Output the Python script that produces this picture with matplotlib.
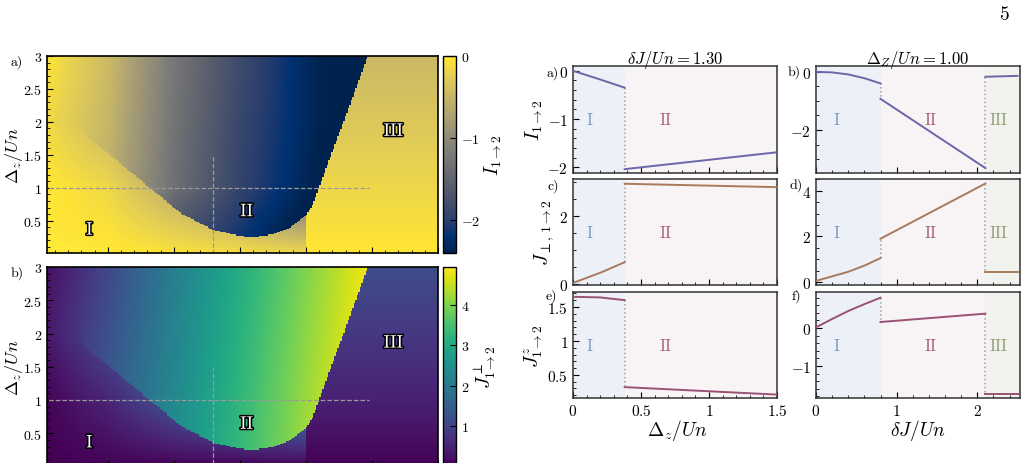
import numpy as np
import matplotlib
matplotlib.use("Agg")
import matplotlib.pyplot as plt
from matplotlib import ticker
import matplotlib.patheffects as pe

plt.rcParams.update({
    "font.family": "serif",
    "font.serif": ["cmr10", "DejaVu Serif"],
    "mathtext.fontset": "cm",
    "axes.formatter.use_mathtext": True,
    "axes.unicode_minus": False,
})

# ---- phase map data ----
# lower edge of phase II (the "bowl"), delta J -> Delta z
bowl_dj = [0.0, 0.2, 0.36, 0.52, 0.64, 0.82, 1.05, 1.3, 1.45, 1.58, 1.75, 1.88, 2.0, 2.05, 2.1, 3.0]
bowl_dz = [2.9, 2.2, 1.74, 1.5, 1.29, 1.0, 0.62, 0.36, 0.29, 0.25, 0.29, 0.39, 0.58, 0.74, 1.0, 5.0]
# left edge of phase III, Delta z -> delta J
iii_dz = [0.0, 0.58, 0.74, 3.0]
iii_dj = [2.0, 2.0, 2.05, 2.47]

# coarse value tables: rows Delta z = 0,1,2,3 ; cols delta J = 0..3 step .5
node_dj = [0.0, 0.5, 1.0, 1.5, 2.0, 2.5, 3.0]
node_dz = [0.0, 1.0, 2.0, 3.0]
I_phase1 = [[0, 0, -0.05, -0.1, -0.15, -0.15, -0.15],
            [0, -0.15, -0.6, -1.0, -1.5, -1.5, -1.5],
            [-0.1, -0.5, -1.2, -1.6, -2.0, -2.0, -2.0],
            [0.0, -0.45, -1.25, -1.8, -2.2, -2.2, -2.2]]
I_phase2 = [[-0.5, -1.0, -1.9, -2.2, -2.6, -3.0, -3.5],
            [-0.2, -0.55, -1.35, -1.95, -2.35, -2.8, -3.2],
            [-0.1, -0.5, -1.3, -1.9, -2.3, -2.7, -3.0],
            [0.0, -0.45, -1.25, -1.85, -2.3, -2.6, -2.8]]
I_phase3 = [[-0.02] * 7, [-0.16] * 7, [-0.32] * 7, [-0.48] * 7]
J_phase1 = [[0] * 7,
            [0, 0.5, 1.3, 1.9, 2.3, 2.3, 2.3],
            [0.25, 1.15, 2.0, 2.6, 3.0, 3.0, 3.0],
            [0.1, 1.05, 2.1, 3.0, 3.4, 3.4, 3.4]]
J_phase2 = [[0.47, 1.42, 2.37, 3.32, 4.27, 5.2, 6.1],
            [0.4, 1.35, 2.3, 3.25, 4.2, 5.1, 6.0],
            [0.25, 1.2, 2.2, 3.15, 4.1, 5.0, 5.9],
            [0.1, 1.05, 2.1, 3.05, 4.0, 4.9, 5.8]]
J_phase3 = [[0] * 7, [0.45] * 7, [0.8] * 7, [1.15] * 7]

# ---- cuts ----
# left column: delta J / Un = 1.30, x = Delta z / Un
cutA_xI, cutA_xII = [0, 0.2, 0.38], [0.38, 1.5]
Ia_I, Ia_II = [0, -0.18, -0.35], [-2.04, -1.69]
Jp_a_I, Jp_a_II = [0.03, 0.33, 0.64], [2.95, 2.85]
Jz_a_I, Jz_a_II = [1.65, 1.64, 1.60], [0.32, 0.21]
# right column: Delta_Z / Un = 1.00, x = delta J / Un
cutB_xI, cutB_xII, cutB_xIII = [0, 0.2, 0.4, 0.6, 0.8], [0.8, 2.1], [2.1, 2.5]
Ib_I, Ib_II, Ib_III = [0, -0.02, -0.09, -0.22, -0.4], [-0.93, -3.31], [-0.17, -0.14]
Jp_b_I, Jp_b_II, Jp_b_III = [0.05, 0.25, 0.45, 0.72, 1.05], [1.9, 4.32], [0.42, 0.42]
Jz_b_I, Jz_b_II, Jz_b_III = [0.02, 0.24, 0.45, 0.63, 0.8], [0.16, 0.38], [-1.74, -1.74]

W, H = 1028, 464
fig = plt.figure(figsize=(W / 100, H / 100), dpi=100)


def box(x0, y0, x1, y1):
    # pixel box (top-left origin) -> figure fraction rect
    return [x0 / W, 1 - y1 / H, (x1 - x0) / W, (y1 - y0) / H]


def fmt(v, p):
    return "$%g$" % v


# ---- phase maps ----
dj_e = np.linspace(0.04, 3.0, 261)
dz_e = np.linspace(0.01, 3.0, 171)
djc = 0.5 * (dj_e[1:] + dj_e[:-1])
dzc = 0.5 * (dz_e[1:] + dz_e[:-1])
DJ, DZ = np.meshgrid(djc, dzc)

edge_bowl = np.interp(djc, bowl_dj, bowl_dz)
edge_iii = np.interp(dzc, iii_dz, iii_dj)
P3 = DJ >= edge_iii[:, None]
P2 = (~P3) & (DZ > edge_bowl[None, :])


def table_field(tab):
    rows = np.array([np.interp(djc, node_dj, r) for r in tab])
    out = np.empty(DJ.shape)
    for j in range(len(djc)):
        out[:, j] = np.interp(dzc, node_dz, rows[:, j])
    return out


def phase_field(t1, t2, t3):
    return np.where(P3, table_field(t3), np.where(P2, table_field(t2), table_field(t1)))


maps = [
    (box(47, 57, 438, 254), box(443, 57, 456, 254), phase_field(I_phase1, I_phase2, I_phase3),
     "cividis", -2.4, 0, [0, -1, -2], r"$I_{1\to 2}$", "a)", 62),
    (box(47, 268, 438, 467), box(443, 268, 456, 467), phase_field(J_phase1, J_phase2, J_phase3),
     "viridis", 0, 4.95, [1, 2, 3, 4], r"$J^{\perp}_{1\to 2}$", "b)", 273),
]
for rect, crect, Z, cmap, vmin, vmax, cticks, clab, tag, ty in maps:
    ax = fig.add_axes(rect)
    m = ax.pcolormesh(dj_e, dz_e, Z, cmap=cmap, vmin=vmin, vmax=vmax, shading="flat", rasterized=True)
    ax.set_xlim(0.04, 3.0)
    ax.set_ylim(0.01, 3.0)
    ax.set_yticks([0.5, 1, 1.5, 2, 2.5, 3])
    ax.set_xticks([0.5, 1, 1.5, 2, 2.5, 3])
    ax.xaxis.set_minor_locator(ticker.MultipleLocator(0.1))
    ax.yaxis.set_minor_locator(ticker.MultipleLocator(0.1))
    ax.yaxis.set_major_formatter(ticker.FuncFormatter(fmt))
    ax.tick_params(which="both", direction="in", labelbottom=False, labelsize=10)
    ax.tick_params(which="major", length=4)
    ax.tick_params(which="minor", length=2)
    for s in ax.spines.values():
        s.set_linewidth(1.2)
    ax.plot([0, 2.48], [1, 1], ls="--", color="#9a9a9a", lw=0.9)
    ax.plot([1.3, 1.3], [0, 1.5], ls="--", color="#9a9a9a", lw=0.9)
    for txt, x, y in [("I", 0.36, 0.36), ("II", 1.55, 0.64), ("III", 2.66, 1.86)]:
        ax.text(x, y, txt, color="white", fontsize=13, ha="center", va="center",
                path_effects=[pe.withStroke(linewidth=2.2, foreground="black")])
    ax.set_ylabel(r"$\Delta_z/Un$", fontsize=13)
    ax.yaxis.set_label_coords(-0.056, 0.5)
    fig.text(17 / W, 1 - ty / H, tag, fontsize=10, ha="center", va="center")

    cax = fig.add_axes(crect)
    cb = fig.colorbar(m, cax=cax)
    cb.set_ticks(cticks)
    cb.ax.yaxis.set_major_formatter(ticker.FuncFormatter(fmt))
    cb.ax.tick_params(direction="in", length=4, labelsize=10)
    cb.outline.set_linewidth(1.0)
    cb.set_label(clab, fontsize=14, labelpad=2)

# ---- cuts ----
bg = {"I": "#edf1f7", "II": "#f8f3f5", "III": "#f2f2ee"}
fg = {"I": "#7a98be", "II": "#a8607a", "III": "#909d78"}
c_I, c_Jp, c_Jz = "#6c66aa", "#a97a5c", "#9a5274"
names = ["I", "II", "III"]
tagA_x = [0.125, 0.68]
tagB_x = [0.26, 1.42, 2.27]

colA = (573, 777)
colB = (816, 1020)
rows_px = [(67, 174), (180, 286), (293, 399)]

panels = [
    # column, row, segments, color, ylim, yticks, ylabel, tag, tag position
    (colA, 0, [(cutA_xI, Ia_I), (cutA_xII, Ia_II)], c_I, (-2.12, 0.1), [0, -1, -2], r"$I_{1\to 2}$", "a)", (553, 73)),
    (colA, 1, [(cutA_xI, Jp_a_I), (cutA_xII, Jp_a_II)], c_Jp, (-0.03, 3.09), [0, 2], r"$J_{\perp,\,1\to 2}$", "c)", (553, 186)),
    (colA, 2, [(cutA_xI, Jz_a_I), (cutA_xII, Jz_a_II)], c_Jz, (0.16, 1.72), [0.5, 1, 1.5], r"$J^{z}_{1\to 2}$", "e)", (551, 296)),
    (colB, 0, [(cutB_xI, Ib_I), (cutB_xII, Ib_II), (cutB_xIII, Ib_III)], c_I, (-3.48, 0.2), [0, -2], None, "b)", (794, 72)),
    (colB, 1, [(cutB_xI, Jp_b_I), (cutB_xII, Jp_b_II), (cutB_xIII, Jp_b_III)], c_Jp, (-0.13, 4.52), [0, 2, 4], None, "d)", (796, 185)),
    (colB, 2, [(cutB_xI, Jz_b_I), (cutB_xII, Jz_b_II), (cutB_xIII, Jz_b_III)], c_Jz, (-1.84, 0.95), [0, -1], None, "f)", (796, 296)),
]
for col, r, segs, color, ylim, yt, ylab, tag, tpos in panels:
    y0, y1 = rows_px[r]
    ax = fig.add_axes(box(col[0], y0, col[1], y1))
    xmax = 1.5 if col is colA else 2.53
    tx = tagA_x if col is colA else tagB_x
    for k, (xs, ys) in enumerate(segs):
        hi = segs[k + 1][0][0] if k < len(segs) - 1 else xmax
        ax.axvspan(xs[0], hi, color=bg[names[k]], lw=0, zorder=0)
        ax.text(tx[k], 0.5, names[k], color=fg[names[k]], fontsize=12, ha="center", va="center",
                transform=ax.get_xaxis_transform())
        ax.plot(xs, ys, color=color, lw=1.4, zorder=3)
        if k > 0:
            px, py = segs[k - 1]
            ax.plot([xs[0], xs[0]], [py[-1], ys[0]], ls=":", color="#a0a0a0", lw=1.1, zorder=2)
    ax.set_xlim(0, xmax)
    ax.set_ylim(*ylim)
    ax.set_yticks(yt)
    ax.yaxis.set_major_formatter(ticker.FuncFormatter(fmt))
    ax.xaxis.set_major_formatter(ticker.FuncFormatter(fmt))
    if col is colA:
        ax.set_xticks([0, 0.5, 1, 1.5])
        ax.xaxis.set_minor_locator(ticker.MultipleLocator(0.1))
    else:
        ax.set_xticks([0, 1, 2])
        ax.xaxis.set_minor_locator(ticker.MultipleLocator(0.2))
    ax.yaxis.set_minor_locator(ticker.AutoMinorLocator())
    ax.tick_params(which="both", direction="in", labelsize=11, labelbottom=(r == 2))
    ax.tick_params(which="major", length=4)
    ax.tick_params(which="minor", length=2)
    for s in ax.spines.values():
        s.set_linewidth(1.1)
        s.set_color("#333333")
    if ylab:
        ax.set_ylabel(ylab, fontsize=14, labelpad=2)
    fig.text(tpos[0] / W, 1 - tpos[1] / H, tag, fontsize=10, ha="center", va="center")

fig.text(675 / W, 1 - 60 / H, r"$\delta J/Un = 1.30$", fontsize=12, ha="center", va="center")
fig.text(918 / W, 1 - 60 / H, r"$\Delta_Z/Un = 1.00$", fontsize=12, ha="center", va="center")
fig.text(677 / W, 1 - 431 / H, r"$\Delta_z/Un$", fontsize=14, ha="center", va="center")
fig.text(918 / W, 1 - 431 / H, r"$\delta J/Un$", fontsize=14, ha="center", va="center")
fig.text(1005 / W, 1 - 15 / H, "5", fontsize=14, ha="center", va="center")

fig.savefig("out.png", dpi=100)
